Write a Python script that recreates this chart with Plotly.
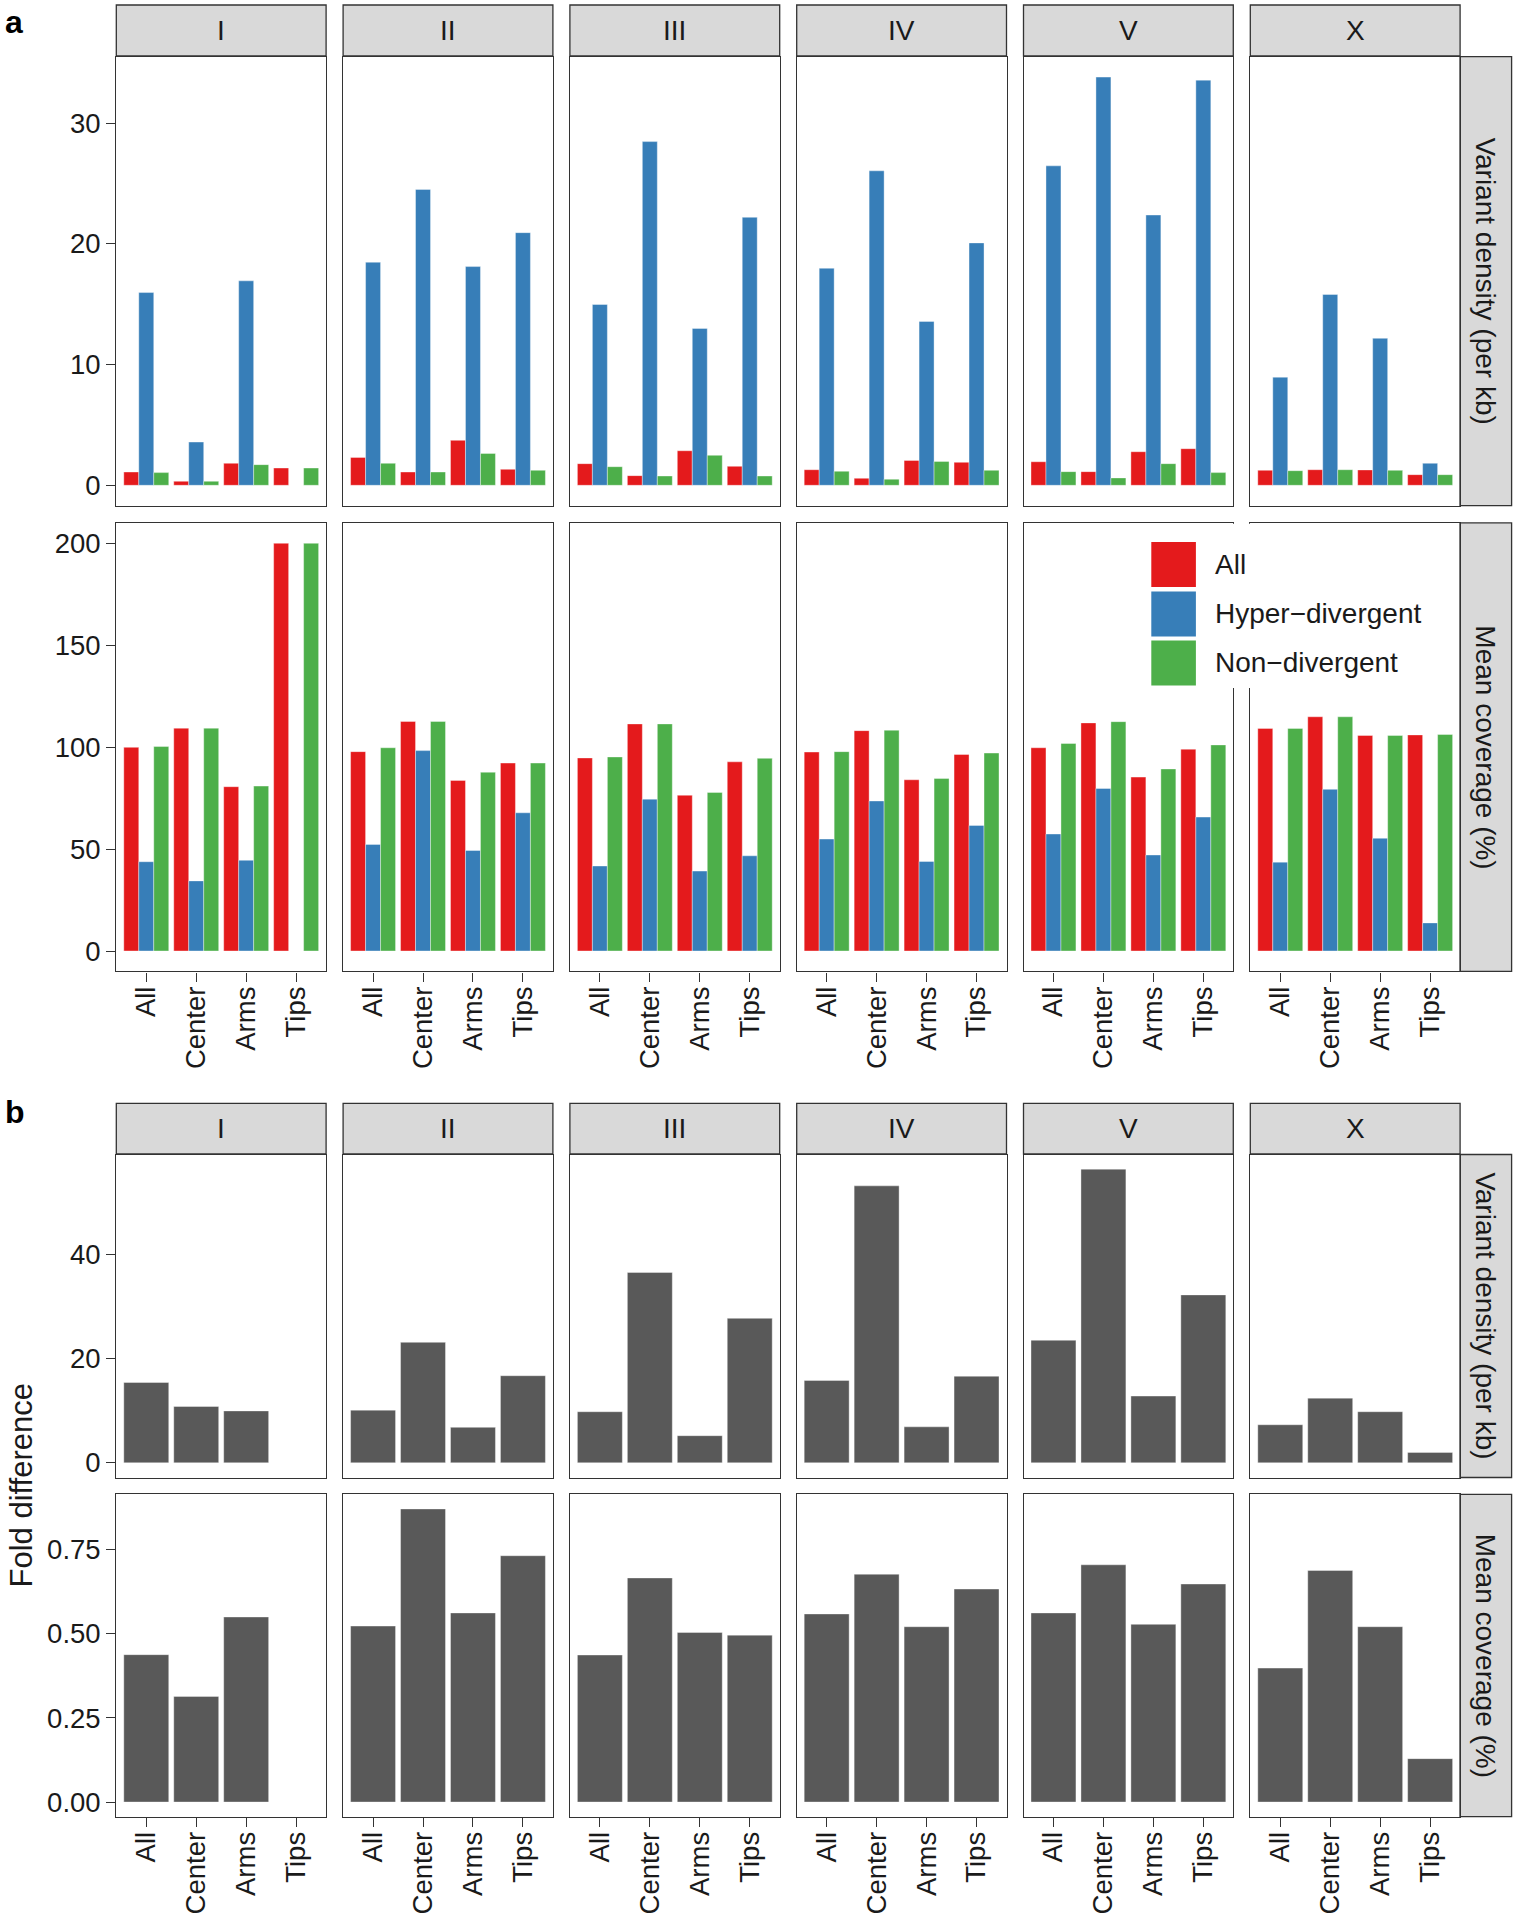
import numpy as np
import plotly.graph_objects as go

# ---------------- data ----------------
chromosomes = ["I", "II", "III", "IV", "V", "X"]
regions = ["All", "Center", "Arms", "Tips"]
series_names = ["All", "Hyper\u2212divergent", "Non\u2212divergent"]
series_colors = ["#E41A1C", "#377EB8", "#4DAF4A"]
fold_color = "#595959"
row_strip_labels = ["Variant density (per kb)", "Mean coverage (%)"]

# panel a, top row: variant density (per kb); one list per chromosome, region order
density_all = [
    [1.10, 0.33, 1.82, 1.43],
    [2.31, 1.10, 3.72, 1.32],
    [1.79, 0.80, 2.86, 1.57],
    [1.29, 0.58, 2.06, 1.90],
    [1.95, 1.13, 2.78, 3.03],
    [1.24, 1.29, 1.27, 0.88],
]
density_hyper = [
    [15.96, 3.58, 16.93, None],
    [18.47, 24.50, 18.11, 20.92],
    [14.97, 28.46, 12.99, 22.19],
    [17.97, 26.04, 13.57, 20.07],
    [26.45, 33.80, 22.38, 33.55],
    [8.95, 15.80, 12.17, 1.82],
]
density_non = [
    [1.05, 0.33, 1.71, 1.43],
    [1.82, 1.10, 2.64, 1.24],
    [1.54, 0.77, 2.48, 0.77],
    [1.16, 0.50, 1.98, 1.24],
    [1.13, 0.61, 1.79, 1.05],
    [1.21, 1.29, 1.24, 0.88],
]
# panel a, bottom row: mean coverage (%)
coverage_all = [
    [99.9, 109.3, 80.6, 200.0],
    [97.8, 112.6, 83.7, 92.2],
    [94.7, 111.4, 76.4, 92.8],
    [97.6, 108.1, 84.0, 96.4],
    [99.7, 111.9, 85.3, 99.0],
    [109.2, 114.9, 105.7, 106.0],
]
coverage_hyper = [
    [43.8, 34.4, 44.5, None],
    [52.3, 98.3, 49.3, 67.8],
    [41.7, 74.5, 39.2, 46.7],
    [54.9, 73.6, 43.9, 61.6],
    [57.4, 79.7, 47.1, 65.7],
    [43.6, 79.3, 55.3, 13.8],
]
coverage_non = [
    [100.3, 109.3, 80.9, 200.0],
    [99.7, 112.6, 87.7, 92.2],
    [95.2, 111.4, 77.8, 94.5],
    [97.8, 108.3, 84.6, 97.1],
    [101.8, 112.5, 89.3, 101.1],
    [109.2, 114.9, 105.7, 106.2],
]
# panel b: fold difference (hyper-divergent / non-divergent)
fold_density = [
    [15.4, 10.8, 9.95, None],
    [10.1, 23.1, 6.8, 16.7],
    [9.8, 36.5, 5.2, 27.7],
    [15.8, 53.1, 6.9, 16.6],
    [23.5, 56.3, 12.8, 32.2],
    [7.3, 12.4, 9.8, 2.0],
]
fold_coverage = [
    [0.438, 0.314, 0.550, None],
    [0.523, 0.871, 0.562, 0.732],
    [0.437, 0.666, 0.504, 0.496],
    [0.559, 0.677, 0.521, 0.633],
    [0.562, 0.705, 0.528, 0.648],
    [0.398, 0.688, 0.521, 0.129],
]
density_ticks = [0, 10, 20, 30]
coverage_ticks = [0, 50, 100, 150, 200]
fold_density_ticks = [0, 20, 40]
fold_coverage_ticks = [0, 0.25, 0.50, 0.75]

# ---------------- layout geometry (pixels) ----------------
W, H = 1517, 1920
def fx(p):
    return p / W
def fy(p):
    return 1 - p / H

COL_L = [116.3 + 226.8 * i for i in range(6)]
COL_W = 209.8
ROWS = [(56.7, 505.7), (522.9, 971.4), (1154.5, 1477.5), (1494.3, 1816.7)]
TOP_STRIPS = [(5.0, 56.0), (1103.3, 1154.0)]
RSTRIP = (1460.0, 1511.6)

FONT = "Liberation Sans, Arial, Helvetica, sans-serif"
TXT = "#1a1a1a"
LINE = "#333333"
TICK_SIZE = 27.5
STRIP_SIZE = 28

row_series = [
    [(density_all, series_colors[0]), (density_hyper, series_colors[1]), (density_non, series_colors[2])],
    [(coverage_all, series_colors[0]), (coverage_hyper, series_colors[1]), (coverage_non, series_colors[2])],
    [(fold_density, fold_color)],
    [(fold_coverage, fold_color)],
]
row_ticks = [density_ticks, coverage_ticks, fold_density_ticks, fold_coverage_ticks]
row_fmt = ["d", "d", "d", ".2f"]

fig = go.Figure()
layout_axes = {}
for r in range(4):
    vals = np.array([[np.nan if v is None else v for v in ch] for s, _ in row_series[r] for ch in s], dtype=float)
    M = np.nanmax(vals)
    yr = [-0.05 * M, 1.05 * M]
    top, bot = ROWS[r]
    for c in range(6):
        k = r * 6 + c + 1
        xs = "x" if k == 1 else f"x{k}"
        ys = "y" if k == 1 else f"y{k}"
        for data, col in row_series[r]:
            fig.add_trace(go.Bar(
                x=regions, y=data[c], xaxis=xs, yaxis=ys,
                marker=dict(color=col, line=dict(color="rgba(255,255,255,0.55)", width=0.7)),
                showlegend=False, hoverinfo="skip",
            ))
        show_x = r in (1, 3)
        layout_axes["xaxis" if k == 1 else f"xaxis{k}"] = dict(
            domain=[fx(COL_L[c]), fx(COL_L[c] + COL_W)], anchor=ys,
            type="category", categoryorder="array", categoryarray=regions,
            range=[-0.6, 3.6], showgrid=False, zeroline=False,
            showline=True, mirror=True, linecolor=LINE, linewidth=1.3,
            ticks="outside" if show_x else "", ticklen=9, tickwidth=1.3, tickcolor=LINE,
            showticklabels=show_x, tickangle=-90, ticklabelstandoff=-6,
            tickfont=dict(family=FONT, size=TICK_SIZE, color=TXT),
            fixedrange=True,
        )
        layout_axes["yaxis" if k == 1 else f"yaxis{k}"] = dict(
            domain=[fy(bot), fy(top)], anchor=xs, range=yr,
            showgrid=False, zeroline=False,
            showline=True, mirror=True, linecolor=LINE, linewidth=1.3,
            ticks="outside" if c == 0 else "", ticklen=9, tickwidth=1.3, tickcolor=LINE,
            tickvals=row_ticks[r], tickformat=row_fmt[r],
            showticklabels=(c == 0),
            tickfont=dict(family=FONT, size=TICK_SIZE, color=TXT),
            fixedrange=True,
        )

shapes = []
annotations = []
# top facet strips
for (st, sb) in TOP_STRIPS:
    for c, name in enumerate(chromosomes):
        shapes.append(dict(type="rect", xref="paper", yref="paper",
                           x0=fx(COL_L[c]), x1=fx(COL_L[c] + COL_W), y0=fy(sb), y1=fy(st),
                           fillcolor="#D9D9D9", line=dict(color=LINE, width=1.3), layer="below"))
        annotations.append(dict(text=name, xref="paper", yref="paper",
                                x=fx(COL_L[c] + COL_W / 2), y=fy((st + sb) / 2),
                                xanchor="center", yanchor="middle", showarrow=False,
                                font=dict(family=FONT, size=STRIP_SIZE, color=TXT)))
# right facet strips
for r in range(4):
    top, bot = ROWS[r]
    shapes.append(dict(type="rect", xref="paper", yref="paper",
                       x0=fx(RSTRIP[0]), x1=fx(RSTRIP[1]), y0=fy(bot), y1=fy(top),
                       fillcolor="#D9D9D9", line=dict(color=LINE, width=1.3), layer="below"))
    annotations.append(dict(text=row_strip_labels[r % 2], xref="paper", yref="paper",
                            x=fx((RSTRIP[0] + RSTRIP[1]) / 2), y=fy((top + bot) / 2),
                            xanchor="center", yanchor="middle", textangle=90, showarrow=False,
                            font=dict(family=FONT, size=STRIP_SIZE, color=TXT)))

# legend (drawn inside panel a, bottom row)
shapes.append(dict(type="rect", xref="paper", yref="paper",
                   x0=fx(1140), x1=fx(1432), y0=fy(688), y1=fy(523.8),
                   fillcolor="white", line=dict(width=0), layer="above"))
key_tops = [542.0, 591.4, 640.4]
for i, name in enumerate(series_names):
    shapes.append(dict(type="rect", xref="paper", yref="paper",
                       x0=fx(1151.3), x1=fx(1195.9), y0=fy(key_tops[i] + 45), y1=fy(key_tops[i]),
                       fillcolor=series_colors[i], line=dict(width=0), layer="above"))
    annotations.append(dict(text=name, xref="paper", yref="paper",
                            x=fx(1213), y=fy(key_tops[i] + 22.5),
                            xanchor="left", yanchor="middle", showarrow=False,
                            font=dict(family=FONT, size=STRIP_SIZE, color=TXT)))

# panel letters and shared axis title
annotations.append(dict(text="<b>a</b>", xref="paper", yref="paper", x=fx(3), y=fy(2),
                        xanchor="left", yanchor="top", showarrow=False,
                        font=dict(family=FONT, size=32, color="black")))
annotations.append(dict(text="<b>b</b>", xref="paper", yref="paper", x=fx(3), y=fy(1112),
                        xanchor="left", yanchor="middle", showarrow=False,
                        font=dict(family=FONT, size=32, color="black")))
annotations.append(dict(text="Fold difference", xref="paper", yref="paper", x=fx(21), y=fy(1485.5),
                        xanchor="center", yanchor="middle", textangle=-90, showarrow=False,
                        font=dict(family=FONT, size=31, color=TXT)))

fig.update_layout(
    width=W, height=H, margin=dict(l=0, r=0, t=0, b=0),
    paper_bgcolor="white", plot_bgcolor="white",
    barmode="group", bargap=0.1, bargroupgap=0,
    showlegend=False, shapes=shapes, annotations=annotations,
    font=dict(family=FONT, color=TXT),
    **layout_axes,
)

fig.write_html("out.html", post_script="document.body.style.margin='0';",
               config={"displayModeBar": False})
